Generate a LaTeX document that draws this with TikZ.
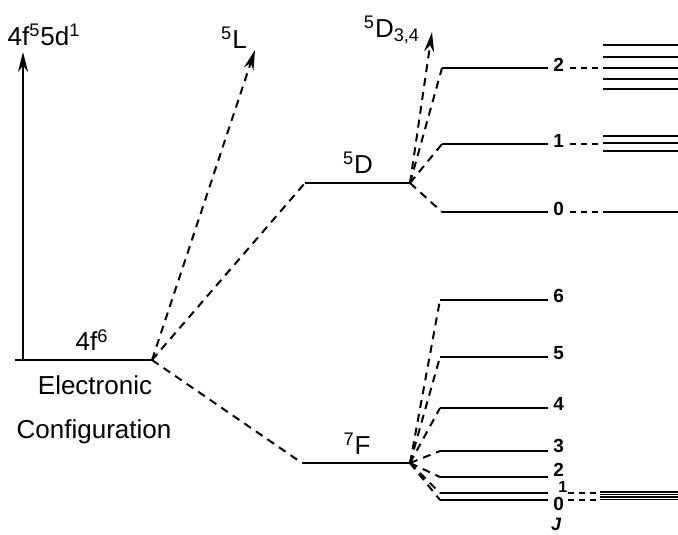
\documentclass[tikz,border=0pt]{standalone}
\usepackage{fontspec}
\setmainfont{Liberation Sans}
\usepackage{tikz}
\usetikzlibrary{arrows.meta}

\tikzset{
  level/.style = {line width=1pt},
  sublevel/.style = {line width=0.9pt},
  link/.style = {line width=1pt, dash pattern=on 4pt off 3pt},
  tick/.style = {line width=0.9pt, dash pattern=on 3pt off 2.5pt},
  term/.style = {font=\fontsize{13}{15}\selectfont, inner sep=0pt},
  jlab/.style = {font=\bfseries\fontsize{9.5}{11}\selectfont, anchor=west, inner sep=0pt},
}

\begin{document}
\begin{tikzpicture}[x=0.5pt, y=-0.5pt, >={Stealth[length=10pt, width=5pt]}]
\useasboundingbox (0,0) rectangle (678,534);

% 4f6 configuration
\coordinate (cfgL) at (15,360);
\coordinate (cfg) at (152,360);
\coordinate (dfoot) at (23,360);
\coordinate (dtip) at (23,52);
\coordinate (Ltip) at (255,50);
\draw[level] (cfgL) -- (cfg);
\draw[level, ->] (dfoot) -- (dtip);
\draw[link, ->] (cfg) -- (Ltip);
\node[term] (dconf) at (44,35) {4f\textsuperscript{5}5d\textsuperscript{1}};
\node[term] (Lterm) at (234,38) {\textsuperscript{5}L};
\node[term] (fconf) at (92,340) {4f\textsuperscript{6}};
\node[term] (elec) at (95,385) {Electronic};
\node[term] (conf) at (94,432) {Configuration};

% 5D and 7F terms
\coordinate (Dl) at (305,183);
\coordinate (D) at (410,183);
\coordinate (Fl) at (302,463);
\coordinate (F) at (410,463);
\draw[link] (cfg) -- (Dl);
\draw[level] (Dl) -- (D);
\draw[link] (cfg) -- (Fl);
\draw[level] (Fl) -- (F);
\node[term] (Dterm) at (358,163) {\textsuperscript{5}D};
\node[term] (Fterm) at (357,444) {\textsuperscript{7}F};
\coordinate (Dtip) at (432,32);
\draw[link, ->] (D) -- (Dtip);
\node[term] (Dhigh) at (392,30) {\textsuperscript{5}D\textsubscript{3,4}};

% 5D J levels
\foreach \j/\yy in {2/68, 1/144, 0/212} {
  \coordinate (Ds\j) at (442,\yy);
  \coordinate (De\j) at (548,\yy);
  \draw[link] (D) -- (Ds\j);
  \draw[level] (Ds\j) -- (De\j);
  \node[jlab] (Dlab\j) at (553,\yy-3) {\j};
  \coordinate (Dsub\j) at (601,\yy);
  \draw[tick] (570,\yy) -- (Dsub\j);
}
\foreach \yy in {45, 57, 68, 79, 89, 136, 143, 151, 212}
  \draw[sublevel] (603,\yy) -- (678,\yy);

% 7F J levels
\foreach \j/\yy in {6/300, 5/357, 4/408, 3/451, 2/477, 1/493, 0/500} {
  \coordinate (Fs\j) at (440,\yy);
  \coordinate (Fe\j) at (548,\yy);
  \draw[link] (F) -- (Fs\j);
  \draw[level] (Fs\j) -- (Fe\j);
}
\foreach \j/\yy in {6/296, 5/353, 4/404, 3/446, 2/470}
  \node[jlab] (Flab\j) at (553,\yy) {\j};
\node[jlab, font=\bfseries\fontsize{8}{9}\selectfont] (Flab1) at (558,487) {1};
\node[jlab] (Flab0) at (553,504) {0};
\foreach \yy in {493, 500} {
  \coordinate (Fsub\yy) at (600,\yy);
  \draw[tick] (568,\yy) -- (Fsub\yy);
}
\foreach \yy in {492, 494.5, 497, 499.5}
  \draw[line width=0.6pt] (600,\yy) -- (678,\yy);
\node[font=\bfseries\itshape\fontsize{9}{10}\selectfont, inner sep=0pt] (Jlab) at (556,524) {J};
\end{tikzpicture}
\end{document}
